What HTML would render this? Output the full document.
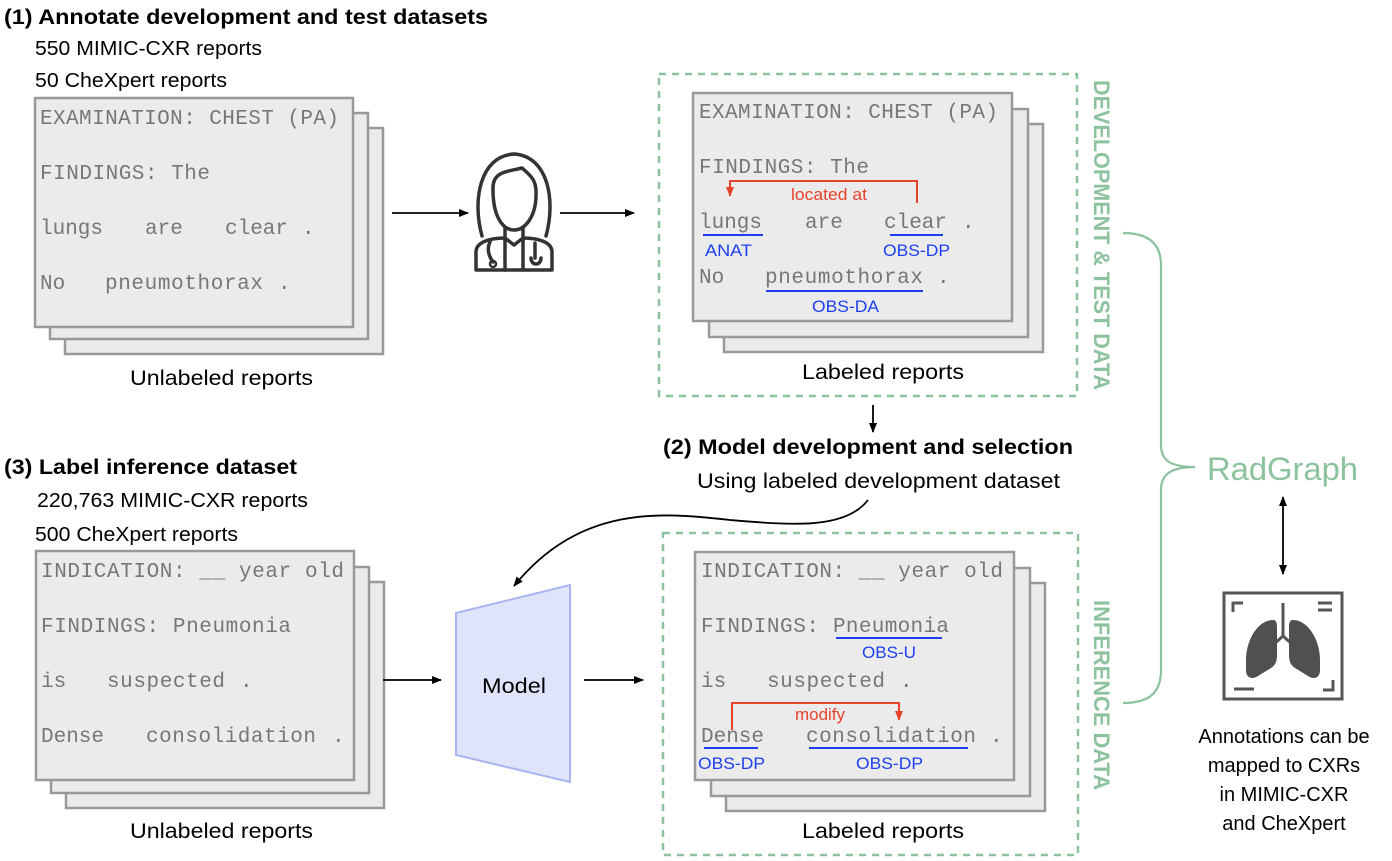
<!DOCTYPE html>
<html><head><meta charset="utf-8"><style>
html,body{margin:0;padding:0;background:#fff}
svg{display:block}
.t{font-family:"Liberation Sans",sans-serif;fill:#000}
.m{font-family:"Liberation Mono",monospace;font-size:21px;fill:#777}
.b{font-family:"Liberation Sans",sans-serif;font-size:17px;fill:#1d3ff0}
.r{font-family:"Liberation Sans",sans-serif;font-size:17px;fill:#e8432a}
.pg{fill:#ebebeb;stroke:#999;stroke-width:2.5}
</style></head><body>
<svg width="1392" height="861" viewBox="0 0 1392 861" xmlns="http://www.w3.org/2000/svg">
<defs>
<marker id="a" markerWidth="10" markerHeight="10" refX="9" refY="5" orient="auto" markerUnits="userSpaceOnUse"><path d="M0,1 L10,5 L0,9z" fill="#000"/></marker>
<marker id="a2" markerWidth="10" markerHeight="10" refX="1" refY="5" orient="auto" markerUnits="userSpaceOnUse"><path d="M10,1 L0,5 L10,9z" fill="#000"/></marker>
<marker id="ar" markerWidth="10" markerHeight="10" refX="9" refY="5" orient="auto" markerUnits="userSpaceOnUse"><path d="M0,1 L10,5 L0,9z" fill="#e8432a"/></marker>
</defs>

<text class="t" x="4" y="24" font-size="21" font-weight="bold" textLength="484" lengthAdjust="spacingAndGlyphs">(1) Annotate development and test datasets</text>
<text class="t" x="35" y="55" font-size="20" textLength="227" lengthAdjust="spacingAndGlyphs">550 MIMIC-CXR reports</text>
<text class="t" x="35" y="87" font-size="20" textLength="192" lengthAdjust="spacingAndGlyphs">50 CheXpert reports</text>
<text class="t" x="4" y="474" font-size="21" font-weight="bold" textLength="293" lengthAdjust="spacingAndGlyphs">(3) Label inference dataset</text>
<text class="t" x="37" y="507" font-size="20" textLength="271" lengthAdjust="spacingAndGlyphs">220,763 MIMIC-CXR reports</text>
<text class="t" x="35" y="541" font-size="20" textLength="203" lengthAdjust="spacingAndGlyphs">500 CheXpert reports</text>
<text class="t" x="663" y="454" font-size="21" font-weight="bold" textLength="410" lengthAdjust="spacingAndGlyphs">(2) Model development and selection</text>
<text class="t" x="697" y="488" font-size="21" textLength="363" lengthAdjust="spacingAndGlyphs">Using labeled development dataset</text>

<rect class="pg" x="65" y="128" width="318" height="226"/>
<rect class="pg" x="50" y="113" width="318" height="226"/>
<rect class="pg" x="35" y="98" width="318" height="229"/>
<text class="m" x="40" y="124" textLength="299">EXAMINATION: CHEST (PA)</text>
<text class="m" x="40" y="179" textLength="170">FINDINGS: The</text>
<text class="m" x="40" y="234">lungs</text><text class="m" x="145" y="234">are</text><text class="m" x="225" y="234">clear</text><text class="m" x="302" y="234">.</text>
<text class="m" x="40" y="289">No</text><text class="m" x="105" y="289" textLength="158">pneumothorax</text><text class="m" x="278" y="289">.</text>
<text class="t" x="130" y="385" font-size="21" textLength="183" lengthAdjust="spacingAndGlyphs">Unlabeled reports</text>

<rect class="pg" x="66" y="582" width="318" height="226"/>
<rect class="pg" x="51" y="567" width="318" height="226"/>
<rect class="pg" x="36" y="551" width="318" height="229"/>
<text class="m" x="41" y="577" textLength="303">INDICATION: __ year old</text>
<text class="m" x="41" y="632" textLength="250">FINDINGS: Pneumonia</text>
<text class="m" x="41" y="687">is</text><text class="m" x="107" y="687" textLength="118">suspected</text><text class="m" x="240" y="687">.</text>
<text class="m" x="41" y="742">Dense</text><text class="m" x="146" y="742" textLength="170">consolidation</text><text class="m" x="332" y="742">.</text>
<text class="t" x="130" y="838" font-size="21" textLength="183" lengthAdjust="spacingAndGlyphs">Unlabeled reports</text>

<rect x="659" y="74" width="418" height="322" fill="none" stroke="#8cc29e" stroke-width="2.5" stroke-dasharray="7,6"/>
<rect x="663" y="533" width="415" height="322" fill="none" stroke="#8cc29e" stroke-width="2.5" stroke-dasharray="7,6"/>

<rect class="pg" x="724" y="124" width="319" height="228"/>
<rect class="pg" x="709" y="109" width="319" height="228"/>
<rect class="pg" x="693" y="93" width="319" height="228"/>
<text class="m" x="699" y="118" textLength="299">EXAMINATION: CHEST (PA)</text>
<text class="m" x="699" y="173" textLength="170">FINDINGS: The</text>
<path d="M917,203 V181 H730 V196" fill="none" stroke="#e8432a" stroke-width="2" marker-end="url(#ar)"/>
<text class="r" x="791" y="200" textLength="76" lengthAdjust="spacingAndGlyphs">located at</text>
<text class="m" x="699" y="228">lungs</text><text class="m" x="805" y="228">are</text><text class="m" x="884" y="228">clear</text><text class="m" x="962" y="228">.</text>
<line x1="703" y1="235" x2="763" y2="235" stroke="#1d3ff0" stroke-width="2"/>
<line x1="890" y1="235" x2="943" y2="235" stroke="#1d3ff0" stroke-width="2"/>
<text class="b" x="705" y="256" textLength="47" lengthAdjust="spacingAndGlyphs">ANAT</text>
<text class="b" x="883" y="256" textLength="67" lengthAdjust="spacingAndGlyphs">OBS-DP</text>
<text class="m" x="699" y="283">No</text><text class="m" x="765" y="283" textLength="158">pneumothorax</text><text class="m" x="937" y="283">.</text>
<line x1="766" y1="291" x2="923" y2="291" stroke="#1d3ff0" stroke-width="2"/>
<text class="b" x="812" y="312" textLength="67" lengthAdjust="spacingAndGlyphs">OBS-DA</text>
<text class="t" x="802" y="379" font-size="21" textLength="162" lengthAdjust="spacingAndGlyphs">Labeled reports</text>

<rect class="pg" x="726" y="583" width="319" height="228"/>
<rect class="pg" x="711" y="568" width="319" height="228"/>
<rect class="pg" x="695" y="552" width="319" height="228"/>
<text class="m" x="701" y="577" textLength="302">INDICATION: __ year old</text>
<text class="m" x="701" y="632" textLength="118">FINDINGS:</text><text class="m" x="833" y="632" textLength="116">Pneumonia</text>
<line x1="836" y1="638" x2="942" y2="638" stroke="#1d3ff0" stroke-width="2"/>
<text class="b" x="862" y="658" textLength="54" lengthAdjust="spacingAndGlyphs">OBS-U</text>
<text class="m" x="701" y="687">is</text><text class="m" x="767" y="687" textLength="118">suspected</text><text class="m" x="900" y="687">.</text>
<path d="M732,730 V703 H899 V720" fill="none" stroke="#e8432a" stroke-width="2" marker-end="url(#ar)"/>
<text class="r" x="795" y="720" textLength="50" lengthAdjust="spacingAndGlyphs">modify</text>
<text class="m" x="701" y="742">Dense</text><text class="m" x="806" y="742" textLength="170">consolidation</text><text class="m" x="990" y="742">.</text>
<line x1="704" y1="748" x2="758" y2="748" stroke="#1d3ff0" stroke-width="2"/>
<line x1="809" y1="748" x2="968" y2="748" stroke="#1d3ff0" stroke-width="2"/>
<text class="b" x="698" y="769" textLength="67" lengthAdjust="spacingAndGlyphs">OBS-DP</text>
<text class="b" x="856" y="769" textLength="67" lengthAdjust="spacingAndGlyphs">OBS-DP</text>
<text class="t" x="802" y="838" font-size="21" textLength="162" lengthAdjust="spacingAndGlyphs">Labeled reports</text>

<text transform="translate(1094,80) rotate(90)" font-family="Liberation Sans,sans-serif" font-weight="bold" font-size="22" fill="#8cc29e" textLength="310" lengthAdjust="spacingAndGlyphs">DEVELOPMENT &amp; TEST DATA</text>
<text transform="translate(1094,600) rotate(90)" font-family="Liberation Sans,sans-serif" font-weight="bold" font-size="22" fill="#8cc29e" textLength="190" lengthAdjust="spacingAndGlyphs">INFERENCE DATA</text>

<line x1="392" y1="213" x2="468" y2="213" stroke="#000" stroke-width="1.8" marker-end="url(#a)"/>
<line x1="560" y1="213" x2="634" y2="213" stroke="#000" stroke-width="1.8" marker-end="url(#a)"/>
<line x1="873" y1="405" x2="873" y2="432" stroke="#000" stroke-width="1.8" marker-end="url(#a)"/>
<line x1="383" y1="680" x2="441" y2="680" stroke="#000" stroke-width="1.8" marker-end="url(#a)"/>
<line x1="584" y1="680" x2="643" y2="680" stroke="#000" stroke-width="1.8" marker-end="url(#a)"/>
<path d="M868,500 C845,530 790,525 730,520 C660,512 580,505 514,586" fill="none" stroke="#000" stroke-width="1.8" marker-end="url(#a)"/>
<line x1="1283" y1="497" x2="1283" y2="574" stroke="#000" stroke-width="1.8" marker-start="url(#a2)" marker-end="url(#a)"/>

<polygon points="456,613 570,585 570,782 456,755" fill="#e0e4fb" stroke="#a9b5f2" stroke-width="2"/>
<text class="t" x="482" y="693" font-size="21" textLength="64" lengthAdjust="spacingAndGlyphs">Model</text>

<g fill="none" stroke="#333" stroke-width="3.5" stroke-linejoin="round" stroke-linecap="round">
<path d="M482,236 C472,200 480,156 514,154 C548,156 556,200 546,236"/>
<path d="M493,190 C492,172 505,172 522,168 C530,175 537,180 536,195 C536,215 526,230 514,230 C502,230 493,215 493,190Z"/>
<path d="M505,228 V240 M523,228 V240"/>
<path d="M476,270 V252 C476,242 490,238 505,238 L514,245 L523,238 C538,238 552,242 552,252 V270 Z"/>
<path d="M505,240 V270 M523,240 V270"/>
<path d="M490,242 C486,250 490,258 493,262"/>
<path d="M535,243 V258 M531,258 C531,266 541,266 541,258"/>
</g>
<circle cx="493" cy="264" r="3" fill="none" stroke="#333" stroke-width="2.5"/>

<path d="M1123,233 C1150,233 1161,245 1161,265 V445 C1161,460 1170,467 1195,467 C1170,467 1161,475 1161,490 V670 C1161,692 1150,703 1123,703" fill="none" stroke="#8cc29e" stroke-width="2.2"/>
<text x="1207" y="480" font-family="Liberation Sans,sans-serif" font-size="32" fill="#8cc29e" textLength="151" lengthAdjust="spacingAndGlyphs">RadGraph</text>

<rect x="1224" y="593" width="118" height="106" fill="none" stroke="#555" stroke-width="3"/>
<g stroke="#555" stroke-width="3" fill="none">
<path d="M1233,612 V603 H1243"/><path d="M1318,603 H1332 M1318,610 H1332"/>
<path d="M1234,689 H1254"/><path d="M1323,690 H1333 V680"/>
<path d="M1283,603 V636 L1273,645 M1283,636 L1293,645"/>
</g>
<path d="M1273,620 C1258,620 1246,640 1246,660 V670 C1246,678 1252,680 1258,676 L1271,668 C1276,665 1277,660 1277,655 V628 C1277,622 1276,620 1273,620Z" fill="#505050"/>
<path d="M1293,620 C1308,620 1320,640 1320,660 V670 C1320,678 1314,680 1308,676 L1295,668 C1290,665 1289,660 1289,655 V628 C1289,622 1290,620 1293,620Z" fill="#505050"/>

<text class="t" x="1284" y="743" font-size="20" text-anchor="middle">Annotations can be</text>
<text class="t" x="1284" y="772" font-size="20" text-anchor="middle">mapped to CXRs</text>
<text class="t" x="1284" y="801" font-size="20" text-anchor="middle">in MIMIC-CXR</text>
<text class="t" x="1284" y="830" font-size="20" text-anchor="middle">and CheXpert</text>
</svg>
</body></html>
